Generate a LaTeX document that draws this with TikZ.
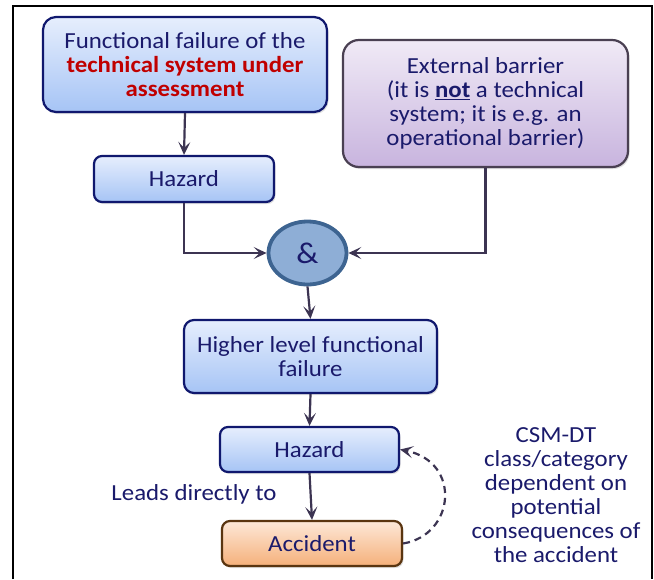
\documentclass[tikz,border=0pt]{standalone}
\usepackage{fontspec}
\setmainfont[FakeStretch=1.08]{Carlito}
\usetikzlibrary{arrows.meta,shapes.geometric,shadows}
\definecolor{navytext}{HTML}{1A1A6B}
\definecolor{navyline}{HTML}{10186E}
\definecolor{alertred}{HTML}{C00000}
\definecolor{arrowcol}{HTML}{3C3452}
\definecolor{bluetop}{HTML}{E6EEFD}
\definecolor{bluebot}{HTML}{A6C4F5}
\definecolor{purpline}{HTML}{4A4052}
\definecolor{purptop}{HTML}{F0EAF6}
\definecolor{purpbot}{HTML}{C8B4DE}
\definecolor{brownline}{HTML}{5A3510}
\definecolor{orangetop}{HTML}{FDE8D8}
\definecolor{orangebot}{HTML}{F5B07A}
\definecolor{gatefill}{HTML}{8EAED6}
\definecolor{gateline}{HTML}{3D6491}
\tikzset{
  every node/.style={font=\fontsize{23}{24}\selectfont, text=navytext, align=center, inner sep=0pt},
  boxshadow/.style={drop shadow={opacity=0.25, shadow xshift=1.5pt, shadow yshift=-2pt}},
  bluebox/.style={rectangle, rounded corners=13pt, draw=navyline, line width=2.2pt,
    top color=bluetop, bottom color=bluebot, boxshadow},
  smallbox/.style={bluebox, rounded corners=8pt},
  purplebox/.style={rectangle, rounded corners=16pt, draw=purpline, line width=2.2pt,
    top color=purptop, bottom color=purpbot, boxshadow},
  orangebox/.style={rectangle, rounded corners=8pt, draw=brownline, line width=2.2pt,
    top color=orangetop, bottom color=orangebot, boxshadow},
  gate/.style={ellipse, draw=gateline, line width=3.8pt, fill=gatefill},
  flow/.style={draw=arrowcol, line width=2.2pt,
    -{Stealth[length=13pt, width=12pt, inset=6pt]}},
  feedback/.style={flow, dash pattern=on 7pt off 5pt},
}
\begin{document}
\begin{tikzpicture}[x=1pt, y=-1pt]
  \useasboundingbox (0,0) rectangle (654,579);
  % open frame around the diagram
  \draw[line width=2.2pt, black] (13,579) -- (13,6) -- (652,6) -- (652,579);

  % boxes
  \node[bluebox, minimum width=284pt, minimum height=95pt] (func) at (185,64.5)
    {Functional failure of the\\
     \textcolor{alertred}{\textbf{technical system under}}\\
     \textcolor{alertred}{\textbf{assessment}}};
  \node[purplebox, minimum width=285pt, minimum height=127pt] (barrier) at (485.5,103.5)
    {External barrier\\
     (it is \textbf{\underline{not}} a technical\\
     system; it is e.g. an\\
     operational barrier)};
  \node[smallbox, minimum width=180pt, minimum height=46pt] (haz1) at (184,179) {Hazard};
  \node[gate, minimum width=78pt, minimum height=63pt] (and) at (307.5,253)
    {\fontsize{30}{30}\selectfont\&};
  \node[bluebox, rounded corners=10pt, minimum width=253pt, minimum height=73pt] (higher) at (310.5,356.5)
    {Higher level functional\\failure};
  \node[smallbox, minimum width=179pt, minimum height=45pt] (haz2) at (309.5,449.5) {Hazard};
  \node[orangebox, minimum width=180pt, minimum height=45pt] (acc) at (312,543.5) {Accident};

  % free labels
  \node (leads) at (194,494) {Leads directly to};
  \node (csm) at (556,495) {CSM-DT\\class/category\\dependent on\\potential\\consequences of\\the accident};

  % connectors
  \draw[flow] (func.south) -- (haz1.north);
  \draw[flow] (haz1.south) |- (and.west);
  \draw[flow] (barrier.south) |- (and.east);
  \draw[flow] (and.south) -- (higher.north);
  \draw[flow] (higher.south) -- (haz2.north);
  \draw[flow] (haz2.south) -- (acc.north);
  \draw[feedback] (acc.east) .. controls (455,535) and (462,462) .. (haz2.east);
\end{tikzpicture}
\end{document}
